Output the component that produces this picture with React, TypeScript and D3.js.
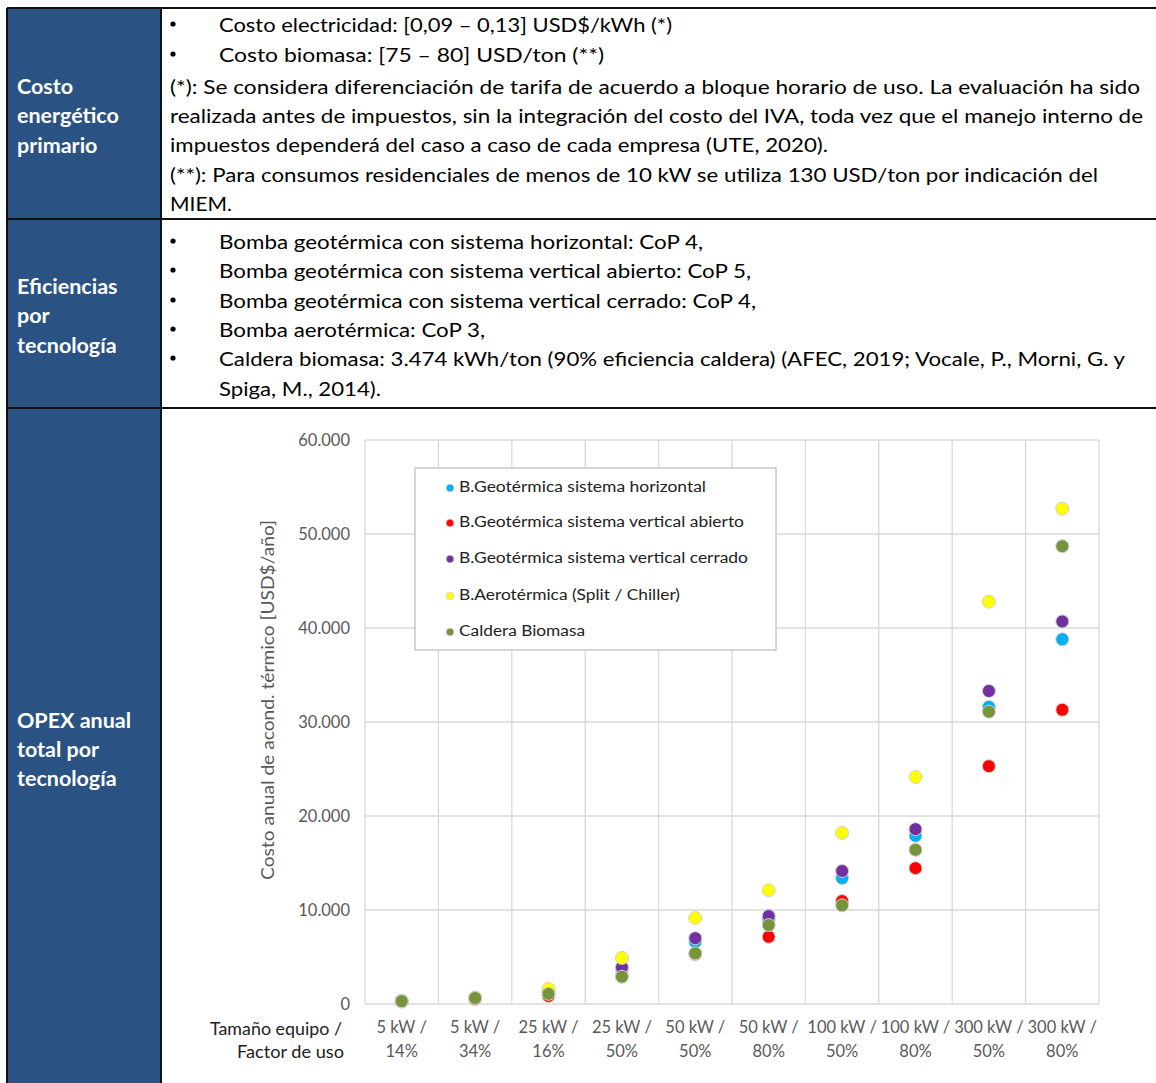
import React, { useEffect } from "react";
import * as d3 from "d3";

// ---------- DATA ----------
const categoryTop = ["5 kW /", "5 kW /", "25 kW /", "25 kW /", "50 kW /", "50 kW /", "100 kW /", "100 kW /", "300 kW /", "300 kW /"];
const categoryBottom = ["14%", "34%", "16%", "50%", "50%", "80%", "50%", "80%", "50%", "80%"];

const seriesNames = [
  "B.Geotérmica sistema horizontal",
  "B.Geotérmica sistema vertical abierto",
  "B.Geotérmica sistema vertical cerrado",
  "B.Aerotérmica (Split / Chiller)",
  "Caldera Biomasa",
];
const seriesColors = ["#00B0F0", "#FF0000", "#7030A0", "#FFFF00", "#77933C"];

const horizontalValues = [300, 600, 1300, 3700, 6600, 9000, 13400, 17900, 31600, 38800];
const verticalAbiertoValues = [260, 520, 850, 3000, 5300, 7150, 10950, 14450, 25300, 31300];
const verticalCerradoValues = [310, 620, 1300, 3900, 7000, 9350, 14150, 18600, 33300, 40700];
const aerotermicaValues = [360, 700, 1600, 4900, 9150, 12100, 18200, 24150, 42800, 52700];
const biomasaValues = [300, 640, 1080, 2900, 5400, 8400, 10500, 16400, 31100, 48700];

const seriesValues = [horizontalValues, verticalAbiertoValues, verticalCerradoValues, aerotermicaValues, biomasaValues];

const yTicks = [0, 10000, 20000, 30000, 40000, 50000, 60000];

const yAxisTitle = "Costo anual de acond. térmico [USD$/año]";
const xAxisTitle = ["Tamaño equipo /", "Factor de uso"];

const row1Label = ["Costo", "energético", "primario"];
const row2Label = ["Eficiencias", "por", "tecnología"];
const row3Label = ["OPEX anual", "total por", "tecnología"];

const row1Lines = [
  { bullet: true, text: "Costo electricidad: [0,09 – 0,13] USD$/kWh (*)" },
  { bullet: true, text: "Costo biomasa: [75 – 80] USD/ton (**)" },
  { bullet: false, text: "(*): Se considera diferenciación de tarifa de acuerdo a bloque horario de uso. La evaluación ha sido" },
  { bullet: false, text: "realizada antes de impuestos, sin la integración del costo del IVA, toda vez que el manejo interno de" },
  { bullet: false, text: "impuestos dependerá del caso a caso de cada empresa (UTE, 2020)." },
  { bullet: false, text: "(**): Para consumos residenciales de menos de 10 kW se utiliza 130 USD/ton por indicación del" },
  { bullet: false, text: "MIEM." },
];
const row1Widths = [453, 385, 970, 973, 658, 928, 62];
const row1Y = [25, 55, 87, 116, 145, 175, 204];

const row2Lines = [
  { bullet: true, text: "Bomba geotérmica con sistema horizontal: CoP 4," },
  { bullet: true, text: "Bomba geotérmica con sistema vertical abierto: CoP 5," },
  { bullet: true, text: "Bomba geotérmica con sistema vertical cerrado: CoP 4," },
  { bullet: true, text: "Bomba aerotérmica: CoP 3," },
  { bullet: true, text: "Caldera biomasa: 3.474 kWh/ton (90% eficiencia caldera) (AFEC, 2019; Vocale, P., Morni, G. y" },
  { bullet: false, text: "Spiga, M., 2014)." },
];
const row2Widths = [484, 532, 537, 266, 906, 162];
const row2Y = [242, 271, 301, 330, 359, 389];

const legendWidths = [247, 285, 289, 221, 126];
const yTitleLength = 360;
const xTitleWidths = [132, 107];

// ---------- COMPONENT ----------
const W = 1156;
const H = 1083;
const TEXT_FONT = "Lato, 'Open Sans', sans-serif";

export default function App() {
  useEffect(() => {
    document.body.style.margin = "0";
    document.body.style.overflow = "hidden";
  }, []);

  const plotLeft = 365;
  const plotRight = 1099;
  const plotTop = 440;
  const plotBottom = 1004;

  const x = d3
    .scaleBand<number>()
    .domain(d3.range(categoryTop.length))
    .range([plotLeft, plotRight])
    .paddingInner(0)
    .paddingOuter(0);
  const y = d3.scaleLinear().domain([0, 60000]).range([plotBottom, plotTop]);

  const fmt = d3.formatLocale({ decimal: ",", thousands: ".", grouping: [3], currency: ["$", ""] }).format(",");

  const blue = "#2A5384";
  const borderCol = "#111";
  const gridCol = "#D9D9D9";
  const tickCol = "#595959";

  const leftColX = 8;
  const leftColW = 152;
  const divX = 160;
  const rowTops = [8, 219, 408];

  const bulletX = 172;
  const bulletTextX = 219;
  const plainX = 170;

  return (
    <svg width={W} height={H} style={{ display: "block", background: "#fff" }} xmlns="http://www.w3.org/2000/svg">
      {/* Left dark column */}
      <rect x={leftColX} y={rowTops[0]} width={leftColW} height={H - rowTops[0]} fill={blue} />

      {/* Table lines */}
      <line x1={leftColX - 1} x2={W} y1={rowTops[0]} y2={rowTops[0]} stroke={borderCol} strokeWidth={2} />
      <line x1={leftColX - 1} x2={W} y1={rowTops[1]} y2={rowTops[1]} stroke={borderCol} strokeWidth={2} />
      <line x1={leftColX - 1} x2={W} y1={rowTops[2]} y2={rowTops[2]} stroke={borderCol} strokeWidth={2} />
      <line x1={leftColX - 1} x2={leftColX - 1} y1={rowTops[0]} y2={H} stroke={borderCol} strokeWidth={2} />
      <line x1={divX + 1} x2={divX + 1} y1={rowTops[0]} y2={H} stroke={borderCol} strokeWidth={2} />

      {/* Left labels */}
      {[
        { lines: row1Label, ys: [86, 115, 145] },
        { lines: row2Label, ys: [286, 315, 345] },
        { lines: row3Label, ys: [720, 749, 778] },
      ].map((g, gi) =>
        g.lines.map((t, i) => (
          <text
            key={`l${gi}-${i}`}
            x={17}
            y={g.ys[i]}
            dy="0.35em"
            fill="#fff"
            fontFamily={TEXT_FONT}
            fontWeight={700}
            fontSize={21.5}
          >
            {t}
          </text>
        ))
      )}

      {/* Row 1 text */}
      {row1Lines.map((l, i) => (
        <g key={`r1-${i}`}>
          {l.bullet && <circle cx={bulletX + 1} cy={row1Y[i] - 1} r={2.6} fill="#000" />}
          <text
            x={l.bullet ? bulletTextX : plainX}
            y={row1Y[i]}
            dy="0.35em"
            fontFamily={TEXT_FONT}
            fontSize={19.5}
            fill="#000"
            textLength={row1Widths[i]}
            lengthAdjust="spacingAndGlyphs"
          >
            {l.text}
          </text>
        </g>
      ))}

      {/* Row 2 text */}
      {row2Lines.map((l, i) => (
        <g key={`r2-${i}`}>
          {l.bullet && <circle cx={bulletX + 1} cy={row2Y[i] - 1} r={2.6} fill="#000" />}
          <text
            x={bulletTextX}
            y={row2Y[i]}
            dy="0.35em"
            fontFamily={TEXT_FONT}
            fontSize={19.5}
            fill="#000"
            textLength={row2Widths[i]}
            lengthAdjust="spacingAndGlyphs"
          >
            {l.text}
          </text>
        </g>
      ))}

      {/* Chart gridlines */}
      <g>
        {yTicks.map((t) => (
          <line key={`hy${t}`} x1={plotLeft} x2={plotRight} y1={y(t)} y2={y(t)} stroke={gridCol} strokeWidth={1.3} />
        ))}
        {d3.range(categoryTop.length + 1).map((i) => {
          const xv = i < categoryTop.length ? (x(i) as number) : plotRight;
          return <line key={`vx${i}`} x1={xv} x2={xv} y1={plotTop} y2={plotBottom} stroke={gridCol} strokeWidth={1.3} />;
        })}
      </g>

      {/* Y tick labels */}
      {yTicks.map((t) => (
        <text
          key={`yt${t}`}
          x={350}
          y={y(t)}
          dy="0.35em"
          textAnchor="end"
          fontFamily={TEXT_FONT}
          fontSize={16.5}
          fill={tickCol}
        >
          {fmt(t)}
        </text>
      ))}

      {/* Y axis title */}
      <text
        transform={`translate(268, ${(plotTop + plotBottom) / 2 - 22}) rotate(-90)`}
        textAnchor="middle"
        dy="0.35em"
        fontFamily={TEXT_FONT}
        fontSize={16.5}
        fill={tickCol}
        textLength={yTitleLength}
        lengthAdjust="spacingAndGlyphs"
      >
        {yAxisTitle}
      </text>

      {/* X category labels */}
      {categoryTop.map((c, i) => {
        const cx = (x(i) as number) + x.bandwidth() / 2;
        return (
          <g key={`xc${i}`}>
            <text x={cx} y={1027} dy="0.35em" textAnchor="middle" fontFamily={TEXT_FONT} fontSize={16.5} fill={tickCol}>
              {c}
            </text>
            <text x={cx} y={1051} dy="0.35em" textAnchor="middle" fontFamily={TEXT_FONT} fontSize={16.5} fill={tickCol}>
              {categoryBottom[i]}
            </text>
          </g>
        );
      })}

      {/* X axis title */}
      <text
        x={210}
        y={1029}
        dy="0.35em"
        fontFamily={TEXT_FONT}
        fontSize={16.5}
        fill="#222"
        textLength={xTitleWidths[0]}
        lengthAdjust="spacingAndGlyphs"
      >
        {xAxisTitle[0]}
      </text>
      <text
        x={237}
        y={1052}
        dy="0.35em"
        fontFamily={TEXT_FONT}
        fontSize={16.5}
        fill="#222"
        textLength={xTitleWidths[1]}
        lengthAdjust="spacingAndGlyphs"
      >
        {xAxisTitle[1]}
      </text>

      {/* Data points */}
      {seriesValues.map((vals, si) => (
        <g key={`s${si}`}>
          {vals.map((v, i) => (
            <circle
              key={`p${si}-${i}`}
              cx={(x(i) as number) + x.bandwidth() / 2}
              cy={y(v)}
              r={6.5}
              fill={seriesColors[si]}
              stroke="#D0D0D0"
              strokeWidth={1}
            />
          ))}
        </g>
      ))}

      {/* Legend */}
      <rect x={415} y={468} width={361} height={182} fill="#fff" stroke="#C8C8C8" strokeWidth={1.5} />
      {seriesNames.map((n, i) => {
        const ly = [487, 522, 558, 595, 631][i];
        return (
          <g key={`lg${i}`}>
            <circle cx={450} cy={ly + 1} r={3.8} fill={seriesColors[i]} stroke="#D0D0D0" strokeWidth={0.6} />
            <text
              x={459}
              y={ly}
              dy="0.35em"
              fontFamily={TEXT_FONT}
              fontSize={15.5}
              fill="#222"
              textLength={legendWidths[i]}
              lengthAdjust="spacingAndGlyphs"
            >
              {n}
            </text>
          </g>
        );
      })}
    </svg>
  );
}
